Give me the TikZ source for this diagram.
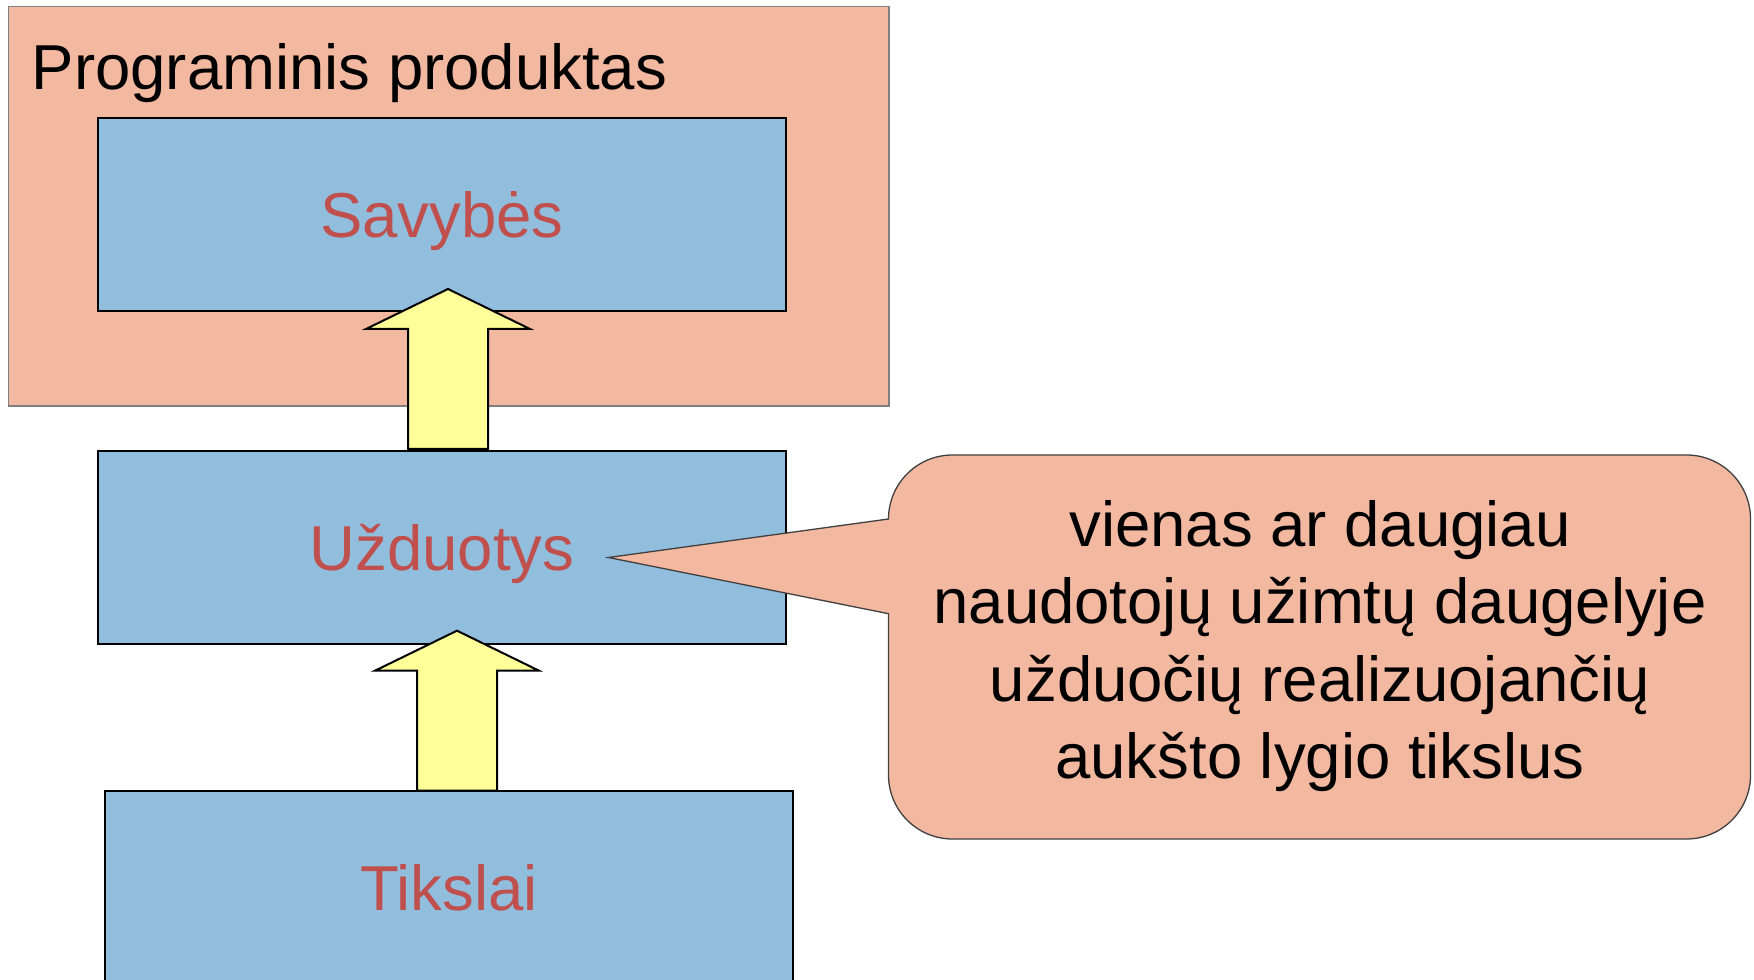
\documentclass[tikz,border=0pt]{standalone}
\usepackage{fontspec}
\setmainfont{Liberation Sans}
\usetikzlibrary{calc}
\definecolor{salmon}{HTML}{F2B8A0}
\definecolor{boxblue}{HTML}{92BEDE}
\definecolor{labred}{HTML}{C0504D}
\definecolor{arrowyellow}{HTML}{FFFF99}
\definecolor{edgegray}{HTML}{7F7F7F}
\newcommand{\myblockarrow}[2]{%
  \draw[blockarrow] let \p1=(#1), \p2=(#2) in
    (\x1-40pt,\y1) -- (\x1-40pt,\y2-40pt) -- (\x1-82pt,\y2-40pt) -- (\x2,\y2)
    -- (\x1+82pt,\y2-40pt) -- (\x1+40pt,\y2-40pt) -- (\x1+40pt,\y1) -- cycle;}
\begin{document}
\begin{tikzpicture}[x=1pt,y=1pt,
  bigfont/.style={font=\fontsize{63.5}{77.5}\selectfont},
  outerbox/.style={draw=edgegray, line width=1.5pt, fill=salmon, minimum width=880.4pt, minimum height=399.3pt, inner sep=0pt},
  bluebox/.style={draw=black, line width=2pt, fill=boxblue, minimum width=688.5pt, minimum height=193pt, inner sep=0pt, bigfont, text=labred, text height=45.5pt, text depth=0pt},
  blockarrow/.style={draw=black, line width=2pt, fill=arrowyellow, line join=miter},
  calloutshape/.style={draw=black!75, line width=1.3pt, fill=salmon},
]
\useasboundingbox (0,0) rectangle (1754,980);
\clip (0,0) rectangle (1754,980);
\fill[white] (0,0) rectangle (1754,980);

% outer product frame
\node[outerbox] (prod) at (448.8,773.6) {};
\node[bigfont, anchor=base west, inner sep=0pt] (title) at (31.6,890) {Programinis produktas};

% boxes
\node[bluebox] (sav) at (441.8,765.5) {Savybės};
\node[bluebox] (uzd) at (442,432.3) {Užduotys};
\node[bluebox] (tik) at (449,92.6) {Tikslai};

% block arrows
\coordinate (a1s) at (448,531);
\coordinate (a1t) at (448,691);
\coordinate (a2s) at (457,189.3);
\coordinate (a2t) at (457,349.3);
\myblockarrow{a1s}{a1t}
\myblockarrow{a2s}{a2t}

% callout
\coordinate (ptip) at (608.5,422.5);
\draw[calloutshape] (888.5,366.3) -- (ptip) -- (888.5,461)
  arc[start angle=180,end angle=90,radius=64] -- (1686.5,525)
  arc[start angle=90,end angle=0,radius=64] -- (1750.5,205)
  arc[start angle=0,end angle=-90,radius=64] -- (952.5,141)
  arc[start angle=270,end angle=180,radius=64] -- cycle;
\node[bigfont, align=center, inner sep=0pt] (note) at (1320,334)
  {vienas ar daugiau\\naudotojų užimtų daugelyje\\užduočių realizuojančių\\aukšto lygio tikslus};
\end{tikzpicture}
\end{document}
